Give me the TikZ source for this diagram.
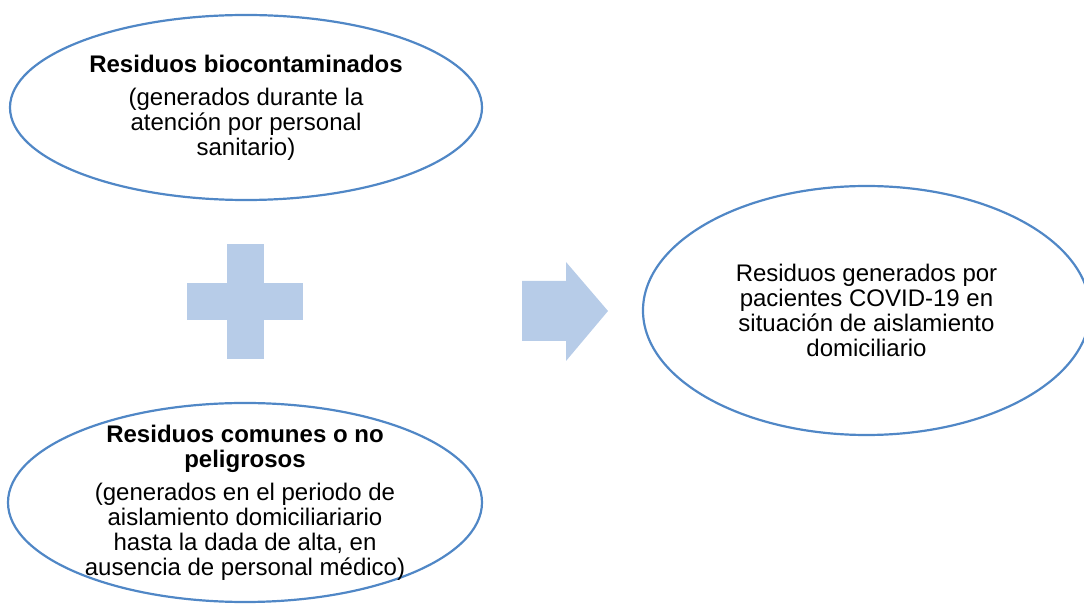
\documentclass[tikz,border=0pt]{standalone}
\usepackage{fontspec}
\setmainfont{Liberation Sans}
\usetikzlibrary{shapes.geometric}
\definecolor{bordure}{RGB}{80,135,198}
\definecolor{remplissage}{RGB}{183,204,232}
\tikzset{
    bulle/.style={draw=bordure, line width=1.1pt, ellipse, inner sep=0pt},
    texte/.style={align=center, font=\fontsize{12}{12.5}\selectfont},
    forme/.style={fill=remplissage, draw=none},
  }
\begin{document}
\begin{tikzpicture}[x=0.5pt,y=-0.5pt]
				  \useasboundingbox (0,0) rectangle (1084,604);

				   %BULLES
				  \node[bulle, minimum width=236pt, minimum height=92.5pt] (bio) at (246,107.5) {};
				  \node[bulle, minimum width=237pt, minimum height=99.5pt] (com) at (245,502.5) {};
				  \node[bulle, minimum width=223.5pt, minimum height=124.5pt] (dom) at (866.5,310.5) {};

				  %TEXTES
				  \node[texte] (tbio) at (bio) {\textbf{Residuos biocontaminados}\\[4pt]
				        (generados durante la\\ atención por personal\\ sanitario)};
				  \node[texte] (tcom) at (com) {\textbf{Residuos comunes o no}\\ \textbf{peligrosos}\\[4pt]
				        (generados en el periodo de\\ aislamiento domiciliariario\\ hasta la dada de alta, en\\ ausencia de personal médico)};
				  \node[texte] (tdom) at (dom) {Residuos generados por\\ pacientes COVID-19 en\\ situación de aislamiento\\ domiciliario};

				  %PLUS
				  \fill[forme] (227,244) rectangle (264,359);
				  \fill[forme] (187,283) rectangle (303,320);

				  %FLECHE
				  \fill[forme] (522,281) -- (566,281) -- (566,262) -- (608,311) -- (566,361) -- (566,341) -- (522,341) -- cycle;
				  \end{tikzpicture}
\end{document}
